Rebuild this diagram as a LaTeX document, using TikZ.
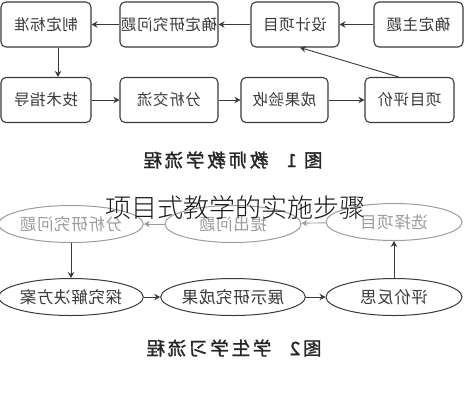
\documentclass[tikz,border=0pt]{standalone}
\usepackage{fontspec}
\usetikzlibrary{arrows.meta,shapes.geometric}
\newfontfamily\cjk{Noto Sans CJK SC}[LetterSpace=4]
\newfontfamily\cjkbold{Noto Sans CJK SC}[FakeBold=1.5,LetterSpace=15]
\newfontfamily\cjklight{Noto Sans CJK SC Light}
% the whole figure is printed mirrored
\newcommand{\mirtext}[1]{\reflectbox{#1}}
\definecolor{boxline}{HTML}{3A3A3A}
\definecolor{fadeline}{HTML}{9C9C9C}
\tikzset{
  stepbox/.style={draw=boxline, line width=1.1pt, rounded corners=5pt,
    minimum height=45pt, inner sep=0pt, text=boxline,
    font=\cjk\fontsize{15.5}{16}\selectfont},
  oval/.style={ellipse, draw=boxline, line width=1pt, minimum width=136pt,
    minimum height=37pt, inner sep=0pt, text=boxline,
    font=\cjk\fontsize{16.5}{17}\selectfont},
  faded/.style={draw=fadeline, text=fadeline},
  arr/.style={draw=boxline, line width=0.9pt,
    -{Stealth[length=6pt,width=6.5pt,inset=2pt]}},
  caption/.style={text=black!85, font=\cjkbold\fontsize{18.5}{19}\selectfont},
}
\begin{document}
\begin{tikzpicture}[x=1pt, y=-1pt]
    \useasboundingbox (0,0) rectangle (470,400);
    % teacher flow
    \node[stepbox, minimum width=90pt] (zhiding) at (46,24.5) {\mirtext{制定标准}};
    \node[stepbox, minimum width=98pt] (queding) at (169,24.5) {\mirtext{确定研究问题}};
    \node[stepbox, minimum width=88pt] (sheji) at (295,24.5) {\mirtext{设计项目}};
    \node[stepbox, minimum width=89pt] (zhuti) at (418.5,24.5) {\mirtext{确定主题}};
    \node[stepbox, minimum width=90pt] (jishu) at (46,100) {\mirtext{技术指导}};
    \node[stepbox, minimum width=98pt] (fenxi) at (169,100) {\mirtext{分析交流}};
    \node[stepbox, minimum width=87pt] (chengguo) at (284.5,100) {\mirtext{成果验收}};
    \node[stepbox, minimum width=89pt] (pingjia) at (409.5,100) {\mirtext{项目评价}};
    \draw[arr] (zhuti) -- (sheji);
    \draw[arr] (sheji) -- (queding);
    \draw[arr] (queding) -- (zhiding);
    \draw[arr] ([xshift=12pt]zhiding.south) -- ([xshift=12pt]jishu.north);
    \draw[arr] (jishu) -- (fenxi);
    \draw[arr] (fenxi) -- (chengguo);
    \draw[arr] (chengguo) -- (pingjia);
    \draw[arr] ([xshift=-11pt]pingjia.north) -- ([xshift=5pt]sheji.south);
    \node[caption] (cap1) at (233,160) {\mirtext{图 1\quad 教师教学流程}};
    % student flow
    \node[oval, faded] (fenxiwt) at (71,224) {\mirtext{分析研究问题}};
    \node[oval, faded] (tichu) at (233,224) {\mirtext{提出问题}};
    \node[oval, faded] (xuanze) at (394,222) {\mirtext{选择项目}};
    \node[oval] (tanjiu) at (71,297) {\mirtext{探究解决方案}};
    \node[oval] (zhanshi) at (233,297) {\mirtext{展示研究成果}};
    \node[oval] (fansi) at (394,297) {\mirtext{评价反思}};
    \draw[arr, draw=fadeline] (xuanze) -- (tichu);
    \draw[arr, draw=fadeline] (tichu) -- (fenxiwt);
    \draw[arr] (fenxiwt) -- (tanjiu);
    \draw[arr] (tanjiu) -- (zhanshi);
    \draw[arr] (zhanshi) -- (fansi);
    \draw[arr] (fansi) -- (xuanze);
    \node[caption] (cap2) at (234,348) {\mirtext{图2\quad 学生学习流程}};
    % title laid over the figure
    \node[text=black!90, font=\cjklight\fontsize{26}{26}\selectfont] (title) at (235,208) {项目式教学的实施步骤};
\end{tikzpicture}
\end{document}
